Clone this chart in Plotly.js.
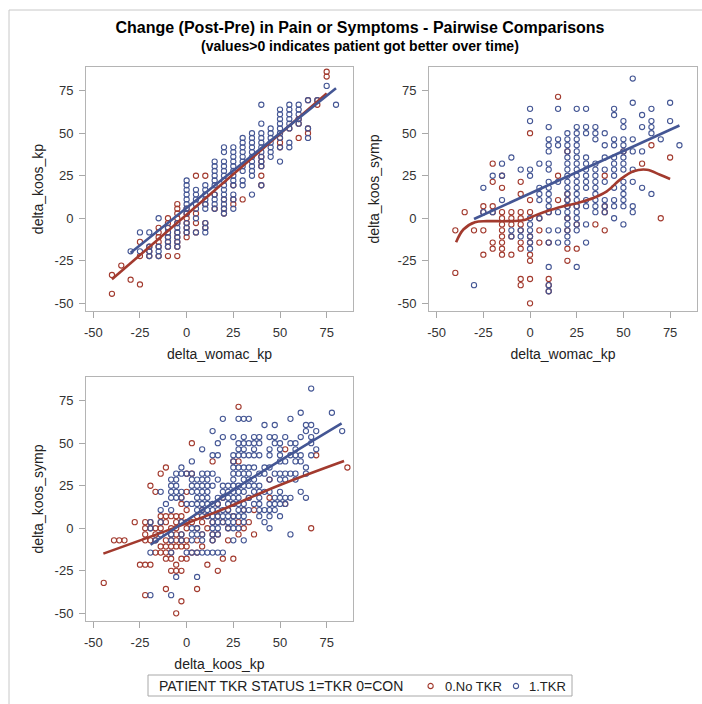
<!DOCTYPE html>
<html>
<head>
<meta charset="utf-8">
<script src="https://cdn.plot.ly/plotly-3.0.1.min.js"></script>
<style>html,body{margin:0;padding:0;background:#fff;}#chart{width:702px;height:704px;}</style>
</head>
<body>
<div id="chart"></div>
<script>
// ---------- Data ----------
const groupNames = ["0.No TKR", "1.TKR"];
const legendTitle = "PATIENT TKR STATUS 1=TKR 0=CON";
const tickVals = [-50, -25, 0, 25, 50, 75];
const tickText = ["-50", "-25", "0", "25", "50", "75"];

// Panel 1: delta_womac_kp (x) vs delta_koos_kp (y)
const p1NoX = [-40,-40,-35,-30,-25,-25,-25,-20,-20,-20,
  -15,-15,-15,-15,-15,-15,
  -10,-10,-10,-10,-10,-10,-10,-10,
  -5,-5,-5,-5,-5,-5,-5,-5,-5,-5,
  0,0,0,0,0,0,0,
  5,5,5,5,
  10,10,10,10,
  15,15,
  20,20,20,
  25,25,25,
  30,
  40,40,40,40,40,
  50,50,50,
  55,
  60,60,60,
  65,65,65,
  70,70,
  75,75];
const p1NoY = [-44.4,-33.3,-27.8,-36.1,-38.9,-22.2,-13.9,-16.7,-19.4,-22.2,
  -5.6,-8.3,-11.1,-13.9,-16.7,-22.2,
  0,-2.8,-5.6,-8.3,-11.1,-13.9,-16.7,-22.2,
  8.3,5.6,2.8,0,-2.8,-8.3,-11.1,-13.9,-16.7,-22.2,
  5.6,2.8,0,-2.8,-5.6,-8.3,-11.1,
  25,2.8,-2.8,-8.3,
  25,8.3,-2.8,-5.6,
  5.6,13.9,
  11.1,5.6,2.8,
  19.4,11.1,8.3,
  11.1,
  36.1,33.3,30.6,25,19.4,
  47.2,44.4,41.7,
  52.8,
  58.3,55.6,47.2,
  69.4,52.8,50,
  66.7,69.4,
  83.3,86.1];
const p1TkrX = [-30,
  -25,-25,
  -20,-20,-20,-20,
  -15,-15,-15,-15,
  -10,-10,-10,-10,-10,
  -5,-5,-5,-5,-5,-5,
  0,0,0,0,0,0,0,0,0,0,0,
  5,5,5,5,5,5,5,
  10,10,10,10,10,10,10,10,10,
  15,15,15,15,15,15,15,15,15,15,
  20,20,20,20,20,20,20,20,20,20,20,20,20,20,
  25,25,25,25,25,25,25,25,25,25,25,25,
  30,30,30,30,30,30,30,30,30,30,
  35,35,35,35,35,35,35,35,35,35,35,
  40,40,40,40,40,40,40,40,40,40,40,
  45,45,45,45,45,45,45,
  50,50,50,50,50,50,50,50,50,
  55,55,55,55,55,55,55,55,
  60,60,60,60,60,
  65,65,65,
  70,
  75,
  80];
const p1TkrY = [-19.4,
  -8.3,-19.4,
  -8.3,-16.7,-19.4,-22.2,
  0,-16.7,-19.4,-22.2,
  -5.6,-8.3,-11.1,-13.9,-16.7,
  -2.8,-5.6,-8.3,-11.1,-13.9,-16.7,
  22.2,19.4,16.7,13.9,11.1,8.3,5.6,2.8,-2.8,-5.6,-8.3,
  16.7,13.9,11.1,8.3,5.6,0,-8.3,
  19.4,16.7,13.9,11.1,8.3,5.6,-2.8,-5.6,-8.3,
  33.3,30.6,27.8,25,22.2,19.4,13.9,11.1,8.3,5.6,
  41.7,38.9,33.3,30.6,27.8,25,22.2,19.4,16.7,13.9,11.1,8.3,5.6,2.8,
  41.7,38.9,36.1,33.3,30.6,27.8,25,22.2,19.4,13.9,11.1,5.6,
  47.2,44.4,41.7,38.9,36.1,33.3,30.6,27.8,22.2,19.4,
  50,47.2,44.4,41.7,38.9,36.1,33.3,30.6,27.8,25,13.9,
  66.7,55.6,50,47.2,44.4,41.7,38.9,36.1,33.3,30.6,19.4,
  52.8,50,47.2,44.4,41.7,38.9,36.1,
  63.9,61.1,58.3,55.6,52.8,50,47.2,41.7,33.3,
  66.7,63.9,61.1,58.3,55.6,52.8,44.4,41.7,
  66.7,63.9,61.1,58.3,55.6,
  69.4,52.8,47.2,
  69.4,
  77.8,
  66.7];
const fit1NoX = [-40, 75];
const fit1NoY = [-35.9, 73.4];
const fit1TkrX = [-30, 80];
const fit1TkrY = [-20.3, 76.4];

// Panel 2: delta_womac_kp (x) vs delta_koos_symp (y)
const p2NoX = [-40,-40,-35,-30,
  -25,-25,-25,-25,
  -20,-20,-20,-20,-20,-20,
  -15,-15,-15,-15,-15,-15,-15,-15,-15,-15,
  -10,-10,-10,-10,-10,
  -5,-5,-5,-5,-5,-5,-5,-5,-5,-5,
  0,0,0,0,0,0,0,0,0,
  5,5,5,
  10,10,10,10,10,
  15,15,15,
  20,20,20,20,20,20,20,20,
  25,25,25,
  35,
  40,40,40,40,
  50,60,65,70,75];
const p2NoY = [-7.1,-32.1,3.6,-7.1,
  7.1,3.6,-7.1,-21.4,
  32.1,21.4,7.1,3.6,-14.3,-17.9,
  25,17.9,3.6,0,-3.6,-7.1,-10.7,-14.3,-17.9,-21.4,
  3.6,0,-3.6,-10.7,-21.4,
  21.4,14.3,3.6,0,-3.6,-7.1,-14.3,-17.9,-35.7,-39.3,
  50,10.7,3.6,-10.7,-14.3,-21.4,-25,-35.7,-50,
  0,-7.1,-14.3,
  3.6,-14.3,-35.7,-39.3,-42.9,
  71.4,25,10.7,
  39.3,14.3,10.7,7.1,0,-7.1,-17.9,-25,
  7.1,-3.6,-17.9,
  -3.6,
  25,7.1,3.6,-7.1,
  39.3,32.1,42.9,0,35.7];
const p2TkrX = [-30,
  -25,-25,
  -20,-20,
  -15,-15,-15,
  -10,-10,-10,
  -5,-5,-5,
  0,0,0,0,0,0,0,0,0,0,
  5,5,5,5,5,
  10,10,10,10,10,10,10,10,10,10,10,10,10,10,10,10,10,
  15,15,15,15,15,15,15,
  20,20,20,20,20,20,20,20,20,20,20,20,20,20,20,20,20,20,20,
  25,25,25,25,25,25,25,25,25,25,25,25,25,25,25,25,25,25,25,25,
  30,30,30,30,30,30,30,30,30,30,30,30,30,
  35,35,35,35,35,35,35,35,35,35,35,35,
  40,40,40,40,40,40,40,40,
  45,45,45,45,45,45,45,45,45,45,45,45,
  50,50,50,50,50,50,50,50,50,50,50,50,50,50,
  55,55,55,55,55,55,55,55,
  60,60,60,60,
  65,65,65,65,65,
  70,
  75,75,
  80];
const p2TkrY = [-39.3,
  17.9,3.6,
  25,3.6,
  32.1,25,10.7,
  35.7,-7.1,-10.7,
  28.6,-7.1,-10.7,
  64.3,57.1,28.6,25,0,-3.6,-7.1,-10.7,-14.3,-17.9,
  32.1,17.9,14.3,10.7,0,
  53.6,46.4,42.9,39.3,32.1,28.6,21.4,17.9,14.3,10.7,7.1,3.6,-7.1,-14.3,-28.6,-39.3,-42.9,
  64.3,46.4,42.9,21.4,3.6,-7.1,-14.3,
  50,46.4,42.9,39.3,35.7,32.1,28.6,25,21.4,17.9,14.3,10.7,7.1,3.6,0,-3.6,-7.1,-10.7,-14.3,
  64.3,53.6,50,46.4,42.9,39.3,35.7,32.1,28.6,25,21.4,17.9,14.3,10.7,7.1,3.6,0,-3.6,-7.1,-28.6,
  64.3,53.6,50,35.7,32.1,28.6,25,21.4,17.9,10.7,7.1,-3.6,-14.3,
  53.6,50,46.4,32.1,28.6,25,21.4,17.9,14.3,10.7,7.1,3.6,
  50,42.9,35.7,28.6,21.4,10.7,7.1,3.6,
  64.3,60.7,46.4,42.9,35.7,32.1,28.6,25,17.9,10.7,7.1,0,
  57.1,53.6,46.4,42.9,39.3,35.7,32.1,28.6,21.4,17.9,14.3,10.7,7.1,-3.6,
  82.1,67.9,46.4,39.3,28.6,21.4,7.1,3.6,
  60.7,53.6,39.3,17.9,
  64.3,57.1,53.6,50,14.3,
  46.4,
  67.9,57.1,
  42.9];
const fit2TkrX = [-30, 80];
const fit2TkrY = [-0.4, 54.5];
const fit2NoX = [-39.6,-35.7,-29.5,-23.2,-12.5,-3.6,1.8,8.9,17.9,26.8,33.9,41.1,48.2,55.4,62.5,69.6,75];
const fit2NoY = [-14.1,-6.6,-2.3,-1.7,-1.7,-1.2,1.2,4.1,7.0,9.4,11.9,15.8,22.7,27.6,28.5,25.6,23.1];

// Panel 3: delta_koos_kp (x) vs delta_koos_symp (y)
const p3NoX = [-44.4,-38.9,-36.1,-33.3,-27.8,-25,-22.2,-19.4,-22.2,-19.4,
  -16.7,-13.9,-11.1,-11.1,-8.3,-5.6,-2.8,-5.6,2.8,5.6,
  13.9,16.7,25,27.8,25,27.8,44.4,52.8,69.4,86.1,
  66.7,52.8,44.4,36.1,33.3,36.1,-22.2,-22.2,-22.2,-22.2,
  -19.4,-16.7,-16.7,-13.9,-13.9,-13.9,-11.1,-11.1,-11.1,-11.1,
  -11.1,-11.1,-8.3,-8.3,-8.3,-8.3,-8.3,-5.6,-5.6,-5.6,
  -5.6,-5.6,-5.6,-2.8,-2.8,-2.8,-2.8,-2.8,-2.8,-2.8,
  -2.8,0,2.8,0,0,0,0,0,0,2.8,
  2.8,5.6,5.6,5.6,8.3,8.3,8.3,8.3,11.1,11.1,
  11.1,13.9,13.9,13.9,16.7,16.7,16.7,19.4,19.4,19.4,
  22.2,22.2,22.2,25,25,27.8,27.8,30.6,30.6,33.3,
  0,-16.7,-19.4,-19.4,-13.9,-13.9,-8.3,-16.7,-8.3,5.6,
  -5.6,-2.8];
const p3NoY = [-32.1,-7.1,-7.1,-7.1,3.6,-21.4,-21.4,-21.4,-39.3,25,
  21.4,32.1,35.7,-35.7,-25,-25,-42.9,-50,50,-35.7,
  39.3,-25,-17.9,71.4,39.3,39.3,28.6,46.4,42.9,35.7,
  0,14.3,17.9,10.7,3.6,-3.6,3.6,0,-3.6,-7.1,
  -7.1,0,-3.6,7.1,-10.7,-14.3,7.1,3.6,-7.1,-10.7,
  -14.3,-17.9,7.1,-3.6,-7.1,-14.3,-17.9,7.1,3.6,0,
  -3.6,-7.1,-10.7,7.1,3.6,-3.6,-7.1,-10.7,-17.9,17.9,
  14.3,32.1,32.1,10.7,3.6,0,-7.1,-10.7,-17.9,-14.3,
  3.6,0,7.1,-14.3,10.7,3.6,-3.6,-10.7,7.1,0,
  -21.4,3.6,-7.1,-3.6,14.3,7.1,-3.6,17.9,3.6,-17.9,
  10.7,0,-7.1,7.1,14.3,3.6,-3.6,0,10.7,17.9,
  21.4,-7.1,0,3.6,0,3.6,0,-14.3,-10.7,-7.1,
  -21.4,-25];
const p3TkrX = [66.7,
  77.8,61.1,
  19.4,27.8,30.6,33.3,55.6,
  41.7,47.2,63.9,66.7,
  13.9,63.9,69.4,83.3,
  19.4,25,30.6,36.1,38.9,44.4,47.2,52.8,61.1,66.7,
  16.7,27.8,30.6,33.3,36.1,38.9,47.2,50,55.6,58.3,66.7,
  8.3,27.8,30.6,36.1,44.4,50,58.3,69.4,
  13.9,16.7,25,27.8,30.6,33.3,36.1,38.9,44.4,50,55.6,58.3,61.1,66.7,
  2.8,25,50,52.8,58.3,61.1,
  -2.8,25,27.8,30.6,33.3,36.1,41.7,44.4,63.9,
  -5.6,-2.8,0,2.8,8.3,11.1,13.9,25,27.8,30.6,33.3,38.9,41.7,47.2,50,52.8,55.6,58.3,63.9,
  -8.3,-5.6,2.8,5.6,8.3,11.1,16.7,25,30.6,33.3,36.1,44.4,50,52.8,58.3,
  -8.3,-5.6,2.8,5.6,8.3,11.1,13.9,19.4,22.2,25,27.8,30.6,33.3,36.1,38.9,
  -13.9,-8.3,-5.6,-2.8,2.8,5.6,8.3,11.1,19.4,22.2,25,27.8,30.6,36.1,38.9,41.7,44.4,50,61.1,
  -8.3,-5.6,-2.8,5.6,8.3,11.1,16.7,19.4,22.2,25,27.8,33.3,38.9,47.2,50,52.8,55.6,63.9,
  -11.1,0,2.8,5.6,8.3,11.1,13.9,16.7,22.2,25,27.8,30.6,36.1,38.9,44.4,47.2,50,52.8,
  -13.9,-8.3,5.6,8.3,11.1,13.9,16.7,19.4,22.2,27.8,30.6,33.3,38.9,41.7,44.4,47.2,
  8.3,11.1,13.9,16.7,19.4,22.2,25,27.8,30.6,38.9,44.4,50,
  -19.4,-13.9,-2.8,13.9,16.7,19.4,22.2,25,30.6,41.7,
  -19.4,2.8,5.6,13.9,16.7,22.2,25,27.8,44.4,
  -13.9,-8.3,-2.8,2.8,5.6,8.3,13.9,16.7,55.6,
  -16.7,-8.3,-2.8,2.8,8.3,13.9,25,30.6,
  -19.4,-8.3,0,2.8,5.6,8.3,11.1,13.9,16.7,19.4,
  -5.6,5.6,
  -8.3,-19.4];
const p3TkrY = [82.1,
  67.9,67.9,
  64.3,64.3,64.3,64.3,64.3,
  60.7,60.7,60.7,60.7,
  57.1,57.1,57.1,57.1,
  53.6,53.6,53.6,53.6,53.6,53.6,53.6,53.6,53.6,53.6,
  50,50,50,50,50,50,50,50,50,50,50,
  46.4,46.4,46.4,46.4,46.4,46.4,46.4,46.4,
  42.9,42.9,42.9,42.9,42.9,42.9,42.9,42.9,42.9,42.9,42.9,42.9,42.9,42.9,
  39.3,39.3,39.3,39.3,39.3,39.3,
  35.7,35.7,35.7,35.7,35.7,35.7,35.7,35.7,35.7,
  32.1,32.1,32.1,32.1,32.1,32.1,32.1,32.1,32.1,32.1,32.1,32.1,32.1,32.1,32.1,32.1,32.1,32.1,32.1,
  28.6,28.6,28.6,28.6,28.6,28.6,28.6,28.6,28.6,28.6,28.6,28.6,28.6,28.6,28.6,
  25,25,25,25,25,25,25,25,25,25,25,25,25,25,25,
  21.4,21.4,21.4,21.4,21.4,21.4,21.4,21.4,21.4,21.4,21.4,21.4,21.4,21.4,21.4,21.4,21.4,21.4,21.4,
  17.9,17.9,17.9,17.9,17.9,17.9,17.9,17.9,17.9,17.9,17.9,17.9,17.9,17.9,17.9,17.9,17.9,17.9,
  14.3,14.3,14.3,14.3,14.3,14.3,14.3,14.3,14.3,14.3,14.3,14.3,14.3,14.3,14.3,14.3,14.3,14.3,
  10.7,10.7,10.7,10.7,10.7,10.7,10.7,10.7,10.7,10.7,10.7,10.7,10.7,10.7,10.7,10.7,
  7.1,7.1,7.1,7.1,7.1,7.1,7.1,7.1,7.1,7.1,7.1,7.1,
  3.6,3.6,3.6,3.6,3.6,3.6,3.6,3.6,3.6,3.6,
  0,0,0,0,0,0,0,0,0,
  -3.6,-3.6,-3.6,-3.6,-3.6,-3.6,-3.6,-3.6,-3.6,
  -7.1,-7.1,-7.1,-7.1,-7.1,-7.1,-7.1,-7.1,
  -14.3,-14.3,-14.3,-14.3,-14.3,-14.3,-14.3,-14.3,-14.3,-14.3,
  -28.6,-28.6,
  -39.3,-39.3];
const fit3NoX = [-44.6, 14.3, 50, 84.3];
const fit3NoY = [-14.9, 8.9, 25.4, 39.5];
const fit3TkrX = [-19.3, 25, 83];
const fit3TkrY = [-9.7, 22.6, 61.6];

// ---------- Styling ----------
const RED = "#A23A2E";
const BLUE = "#445694";
const FONT = "Liberation Sans, Arial, Helvetica, sans-serif";

function pts(x, y, color, name, xa, ya) {
  return {type: "scatter", mode: "markers", x: x, y: y, name: name,
    xaxis: xa, yaxis: ya, showlegend: false, hoverinfo: "skip",
    marker: {symbol: "circle-open", size: 5.2, color: color, line: {width: 1.1, color: color}}};
}
function fit(x, y, color, xa, ya, shape) {
  return {type: "scatter", mode: "lines", x: x, y: y, xaxis: xa, yaxis: ya,
    showlegend: false, hoverinfo: "skip",
    line: {color: color, width: 2.6, shape: shape || "linear", smoothing: 1}};
}

const traces = [
  pts(p1NoX, p1NoY, RED, groupNames[0], "x", "y"),
  pts(p1TkrX, p1TkrY, BLUE, groupNames[1], "x", "y"),
  fit(fit1NoX, fit1NoY, RED, "x", "y"),
  fit(fit1TkrX, fit1TkrY, BLUE, "x", "y"),
  pts(p2NoX, p2NoY, RED, groupNames[0], "x2", "y2"),
  pts(p2TkrX, p2TkrY, BLUE, groupNames[1], "x2", "y2"),
  fit(fit2NoX, fit2NoY, RED, "x2", "y2", "spline"),
  fit(fit2TkrX, fit2TkrY, BLUE, "x2", "y2"),
  pts(p3NoX, p3NoY, RED, groupNames[0], "x3", "y3"),
  pts(p3TkrX, p3TkrY, BLUE, groupNames[1], "x3", "y3"),
  fit(fit3NoX, fit3NoY, RED, "x3", "y3", "spline"),
  fit(fit3TkrX, fit3TkrY, BLUE, "x3", "y3", "spline")
];

function axis(domain, range, title, anchor, standoff) {
  return {domain: domain, range: range, anchor: anchor,
    title: {text: title, font: {family: FONT, size: 14, color: "#222"}, standoff: standoff},
    tickmode: "array", tickvals: tickVals, ticktext: tickText,
    ticks: "outside", ticklen: 6, tickwidth: 1, tickcolor: "#a8a8a8",
    ticklabelstandoff: 3,
    tickfont: {family: FONT, size: 13, color: "#333"},
    showline: true, mirror: true, linecolor: "#b4b4b4", linewidth: 1,
    showgrid: false, zeroline: false, fixedrange: true};
}

const W = 702, H = 704;
const px = v => v / W;
const py = v => 1 - v / H;

// Legend drawn as a boxed row: title text, then a marker + label per group
const legendY = py(686);
const legendAnnotations = [
  {text: legendTitle, x: px(157), xanchor: "left"},
  {text: groupNames[0], x: px(443), xanchor: "left"},
  {text: groupNames[1], x: px(527), xanchor: "left"}
].map((a, i) => Object.assign({xref: "paper", yref: "paper", y: legendY, yanchor: "middle",
  showarrow: false, font: {family: FONT, size: i === 0 ? 14 : 13, color: "#222"}}, a));

function legendDot(cx, color) {
  return {type: "circle", xref: "paper", yref: "paper",
    xsizemode: "pixel", ysizemode: "pixel", xanchor: px(cx), yanchor: legendY,
    x0: -2.6, x1: 2.6, y0: -2.6, y1: 2.6, line: {color: color, width: 1.1}};
}

const layout = {
  width: W, height: H,
  margin: {l: 0, r: 0, t: 0, b: 0},
  paper_bgcolor: "#fff", plot_bgcolor: "#fff",
  font: {family: FONT, color: "#222"},
  showlegend: false,
  title: {text: "<b>Change (Post-Pre) in Pain or Symptoms - Pairwise Comparisons</b>",
    font: {family: FONT, size: 16, color: "#000"},
    xref: "paper", x: px(360), xanchor: "center",
    yref: "paper", y: py(27), yanchor: "middle"},
  annotations: [{text: "<b>(values>0 indicates patient got better over time)</b>",
    xref: "paper", yref: "paper", x: px(360), y: py(46),
    xanchor: "center", yanchor: "middle", showarrow: false,
    font: {family: FONT, size: 14, color: "#000"}}].concat(legendAnnotations),
  xaxis: axis([px(86), px(353)], [-53.9, 89.1], "delta_womac_kp", "y", 10),
  yaxis: axis([py(311), py(67)], [-54.5, 88.9], "delta_koos_kp", "x", 7),
  xaxis2: axis([px(429), px(697)], [-54.1, 89.4], "delta_womac_kp", "y2", 10),
  yaxis2: axis([py(311), py(67)], [-54.5, 88.9], "delta_koos_symp", "x2", 14),
  xaxis3: axis([px(86), px(353)], [-53.9, 89.1], "delta_koos_kp", "y3", 10),
  yaxis3: axis([py(621), py(377)], [-54.5, 88.9], "delta_koos_symp", "x3", 7),
  shapes: [
    {type: "rect", xref: "paper", yref: "paper", x0: px(9), x1: 1.05, y0: -0.05, y1: py(10),
      line: {color: "#c8c8c8", width: 1}, fillcolor: "rgba(0,0,0,0)", layer: "below"},
    {type: "rect", xref: "paper", yref: "paper", x0: px(148), x1: px(572), y0: py(696), y1: py(675),
      line: {color: "#a8a8a8", width: 1}, fillcolor: "rgba(0,0,0,0)"},
    legendDot(430.6, RED),
    legendDot(516, BLUE)
  ]
};

Plotly.newPlot("chart", traces, layout, {displayModeBar: false, staticPlot: true});
</script>
</body>
</html>
